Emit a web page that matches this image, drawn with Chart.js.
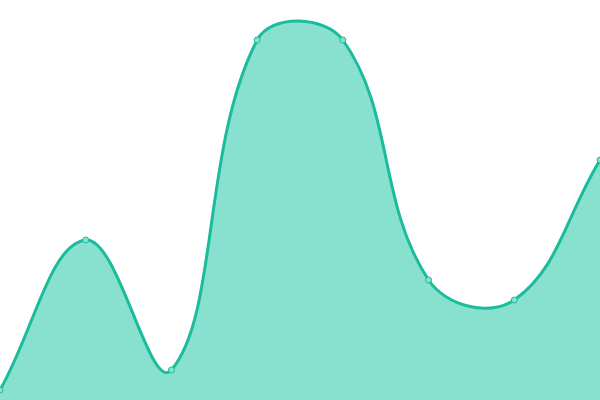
<!DOCTYPE html>
<html>
<head>
<meta charset="utf-8">
<script src="https://cdn.jsdelivr.net/npm/chart.js@4"></script>
<style>
  html, body { margin: 0; padding: 0; background: #fff; }
  #wrap { width: 600px; height: 400px; }
</style>
</head>
<body>
<div id="wrap"><canvas id="areaChart"></canvas></div>
<script>
const labels = ['1', '2', '3', '4', '5', '6', '7', '8'];
const values = [5, 80, 15, 180, 180, 60, 50, 120];

document.addEventListener('DOMContentLoaded', () => {
    const ctx = document.getElementById('areaChart').getContext('2d');
    new Chart(ctx, {
        type: 'line',
        data: {
            labels: labels,
            datasets: [{
                data: values,
                borderColor: '#1abc9c',
                backgroundColor: '#88e0cf',
                borderWidth: 3,
                fill: true,
                tension: 0.4,
                pointRadius: 3,
                pointBorderWidth: 1,
                pointBackgroundColor: '#88e0cf',
                pointBorderColor: '#1abc9c'
            }]
        },
        options: {
            responsive: true,
            maintainAspectRatio: false,
            animation: false,
            layout: { padding: 0, autoPadding: false },
            plugins: {
                legend: { display: false },
                tooltip: { enabled: false }
            },
            scales: {
                x: { display: false },
                y: { display: false, min: 0, max: 200 }
            }
        }
    });
});
</script>
</body>
</html>
